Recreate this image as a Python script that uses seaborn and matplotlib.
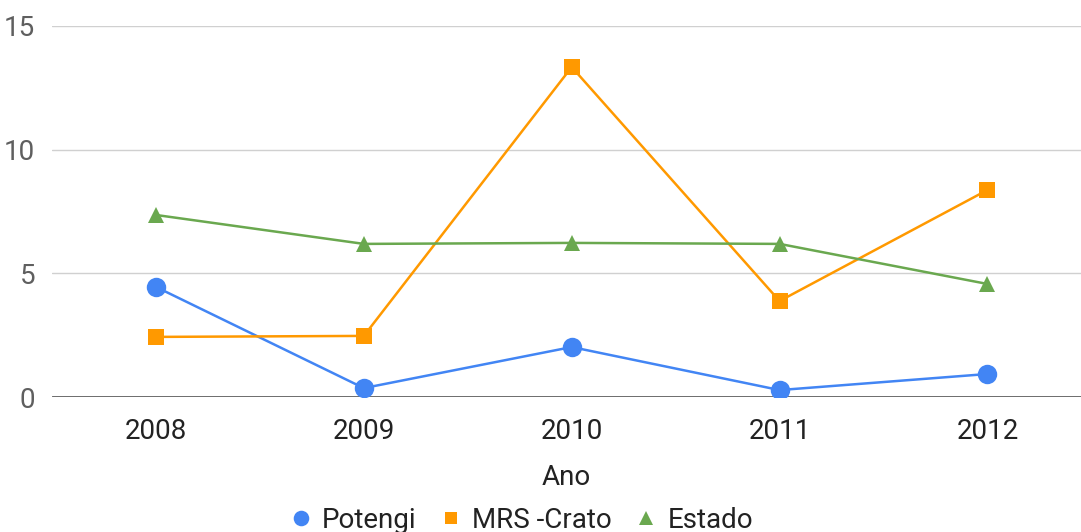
import pandas as pd
import matplotlib.pyplot as plt
from matplotlib.lines import Line2D
import seaborn as sns

# Data
anos = [2008, 2009, 2010, 2011, 2012]
potengi = [4.45, 0.36, 2.02, 0.28, 0.93]
mrs_crato = [2.43, 2.47, 13.34, 3.88, 8.37]
estado = [7.36, 6.19, 6.23, 6.19, 4.57]

series = ['Potengi', 'MRS -Crato', 'Estado']
cores = ['#4285F4', '#FF9900', '#6AA84F']
marcadores = ['o', 's', '^']
tamanhos = [14, 11.5, 12]

df = pd.DataFrame({
    'Ano': anos * 3,
    'Valor': potengi + mrs_crato + estado,
    'Serie': [s for s in series for _ in anos],
})

sns.set_style("white")
plt.rcParams['font.family'] = ['Roboto', 'DejaVu Sans']

fig = plt.figure(figsize=(10.81, 5.32), dpi=100)
ax = fig.add_axes([52 / 1081, 1 - 397 / 532, 1 - 52 / 1081, (397 - 26) / 532])

for nome, cor, mk, ms in zip(series, cores, marcadores, tamanhos):
    sub = df[df['Serie'] == nome]
    sns.lineplot(data=sub, x='Ano', y='Valor', color=cor, marker=mk,
                 markersize=ms, markeredgewidth=0, linewidth=1.8, ax=ax,
                 legend=False, zorder=3)

ax.set_xlim(2007.5, 2012.45)
ax.set_ylim(0, 15)
ax.set_yticks([0, 5, 10, 15])
ax.set_xticks(anos)
ax.grid(axis='y', color='#d0d0d0', linewidth=1)
ax.axhline(0, color='#444444', linewidth=1.8, zorder=2)
for s in ax.spines.values():
    s.set_visible(False)
ax.tick_params(axis='y', labelsize=20, labelcolor='#5f5f5f', length=0, pad=12)
ax.tick_params(axis='x', labelsize=20, labelcolor='#222222', length=0, pad=15)
ax.set_ylabel('')
ax.set_xlabel('Ano', fontsize=20, color='#222222', labelpad=14)

handles = [Line2D([], [], linestyle='', marker=mk, color=cor,
                  markersize=ms * 0.8, markeredgewidth=0)
           for cor, mk, ms in zip(cores, marcadores, tamanhos)]
fig.legend(handles, series, loc='lower center', ncol=3, frameon=False,
           fontsize=20, bbox_to_anchor=(0.481, -0.05), handletextpad=0.25,
           columnspacing=0.75, handlelength=1.0, labelcolor='#222222')

fig.savefig('out.png', dpi=100)
